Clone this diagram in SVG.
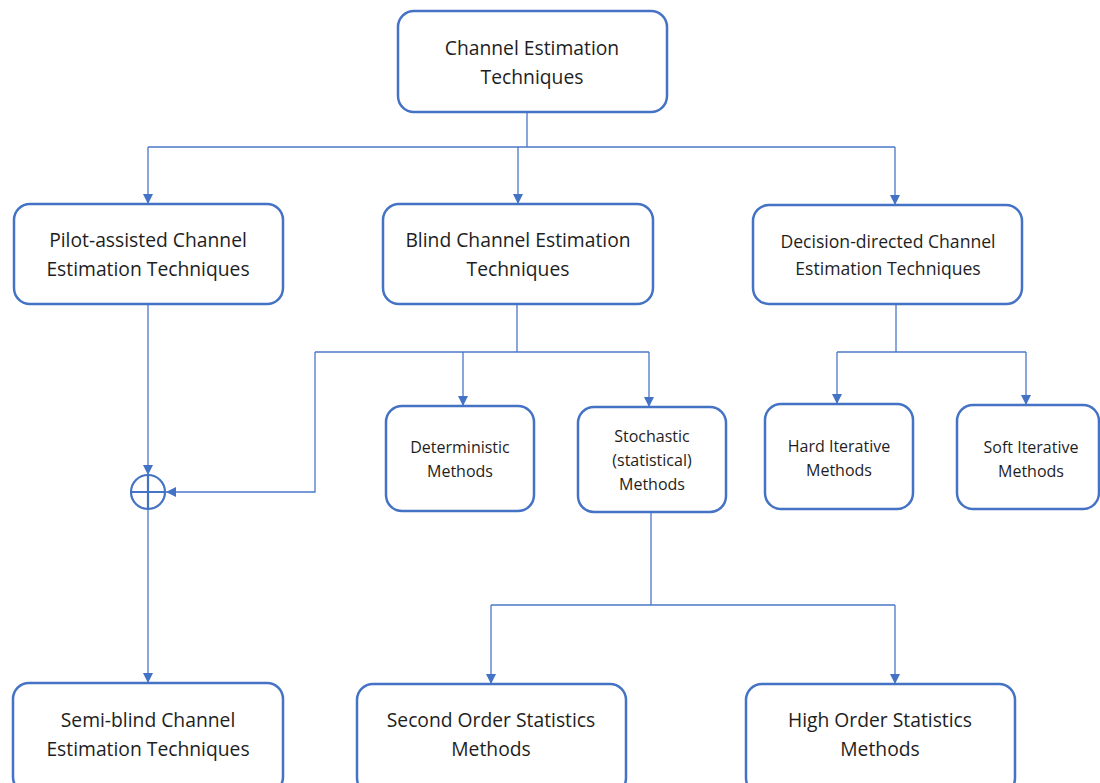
<svg xmlns="http://www.w3.org/2000/svg" width="1100" height="783" viewBox="0 0 1100 783">
<style>
.box{fill:#fff;stroke:#4472C4;stroke-width:2.5}
.t{font-family:"Open Sans","Liberation Sans",sans-serif;fill:#1e1e1e;text-anchor:middle}
.l{font-size:19.3px}
.m{font-size:17.6px}
.s{font-size:16px}
.c{fill:none;stroke:#4A77C9;stroke-width:1.3}
</style>
<defs>
<marker id="ah" viewBox="0 0 10 10" refX="10" refY="5" markerWidth="10" markerHeight="10" markerUnits="userSpaceOnUse" orient="auto">
<path d="M0,0 L10,5 L0,10 z" fill="#4472C4"/>
</marker>
</defs>
<rect width="1100" height="783" fill="#fff"/>
<g id="connectors">
<polyline class="c" points="527,112 527,147"/>
<polyline class="c" points="148,147 895,147"/>
<polyline class="c" points="148,147 148,204" marker-end="url(#ah)"/>
<polyline class="c" points="518,147 518,204" marker-end="url(#ah)"/>
<polyline class="c" points="895,147 895,205" marker-end="url(#ah)"/>
<polyline class="c" points="148,304 148,475" marker-end="url(#ah)"/>
<polyline class="c" points="148,509 148,683" marker-end="url(#ah)"/>
<polyline class="c" points="517,304 517,352"/>
<polyline class="c" points="315,352 649,352"/>
<polyline class="c" points="315,352 315,492 166,492" marker-end="url(#ah)"/>
<polyline class="c" points="463,352 463,406" marker-end="url(#ah)"/>
<polyline class="c" points="649,352 649,407" marker-end="url(#ah)"/>
<polyline class="c" points="896,304 896,352"/>
<polyline class="c" points="837,352 1026,352"/>
<polyline class="c" points="837,352 837,404" marker-end="url(#ah)"/>
<polyline class="c" points="1026,352 1026,405" marker-end="url(#ah)"/>
<polyline class="c" points="651,512 651,605"/>
<polyline class="c" points="491,605 895,605"/>
<polyline class="c" points="491,605 491,684" marker-end="url(#ah)"/>
<polyline class="c" points="895,605 895,684" marker-end="url(#ah)"/>
</g>
<g id="sum">
<circle cx="148" cy="492" r="17" fill="#fff" stroke="#4472C4" stroke-width="2.2"/>
<line x1="131" y1="492" x2="165" y2="492" stroke="#4472C4" stroke-width="2.2"/>
<line x1="148" y1="475" x2="148" y2="509" stroke="#4472C4" stroke-width="2.2"/>
</g>
<g id="root">
<rect class="box" x="398" y="11" width="269" height="101" rx="16"/>
<text class="t l" x="532" y="55">Channel Estimation</text>
<text class="t l" x="532" y="84">Techniques</text>
</g>
<g id="pilot">
<rect class="box" x="14" y="204" width="269" height="100" rx="16"/>
<text class="t l" x="148" y="247">Pilot-assisted Channel</text>
<text class="t l" x="148" y="276">Estimation Techniques</text>
</g>
<g id="blind">
<rect class="box" x="383" y="204" width="270" height="100" rx="16"/>
<text class="t l" x="518" y="247">Blind Channel Estimation</text>
<text class="t l" x="518" y="276">Techniques</text>
</g>
<g id="decision">
<rect class="box" x="753" y="205" width="269" height="99" rx="16"/>
<text class="t m" x="888" y="248">Decision-directed Channel</text>
<text class="t m" x="888" y="275">Estimation Techniques</text>
</g>
<g id="deterministic">
<rect class="box" x="386" y="406" width="148" height="105" rx="16"/>
<text class="t s" x="460" y="453">Deterministic</text>
<text class="t s" x="460" y="477">Methods</text>
</g>
<g id="stochastic">
<rect class="box" x="578" y="407" width="148" height="105" rx="16"/>
<text class="t s" x="652" y="442">Stochastic</text>
<text class="t s" x="652" y="466">(statistical)</text>
<text class="t s" x="652" y="490">Methods</text>
</g>
<g id="hard">
<rect class="box" x="765" y="404" width="148" height="105" rx="16"/>
<text class="t s" x="839" y="452">Hard Iterative</text>
<text class="t s" x="839" y="476">Methods</text>
</g>
<g id="soft">
<rect class="box" x="957" y="405" width="142" height="104" rx="16"/>
<text class="t s" x="1031" y="453">Soft Iterative</text>
<text class="t s" x="1031" y="477">Methods</text>
</g>
<g id="semiblind">
<rect class="box" x="13" y="683" width="270" height="110" rx="16"/>
<text class="t l" x="148" y="727">Semi-blind Channel</text>
<text class="t l" x="148" y="756">Estimation Techniques</text>
</g>
<g id="second">
<rect class="box" x="357" y="684" width="269" height="110" rx="16"/>
<text class="t l" x="491" y="727">Second Order Statistics</text>
<text class="t l" x="491" y="756">Methods</text>
</g>
<g id="high">
<rect class="box" x="746" y="684" width="269" height="110" rx="16"/>
<text class="t l" x="880" y="727">High Order Statistics</text>
<text class="t l" x="880" y="756">Methods</text>
</g>
</svg>
